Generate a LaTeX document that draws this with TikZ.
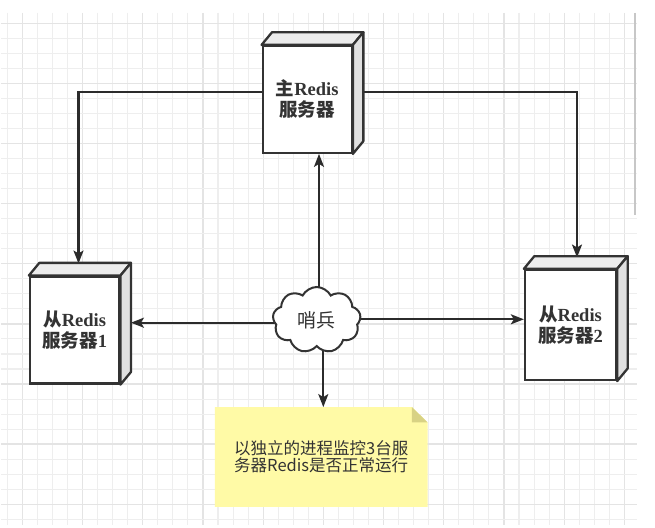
\documentclass[tikz,border=0pt]{standalone}
\usepackage{fontspec}
\setmainfont{Liberation Serif}
\newfontfamily\cjk{Noto Sans CJK SC}
\usetikzlibrary{arrows.meta,shapes.symbols}
\definecolor{boxline}{HTML}{333333}
\definecolor{connline}{HTML}{2B2B2B}
\definecolor{topface}{HTML}{ECECEC}
\definecolor{sideface}{HTML}{E0E0E0}
\definecolor{gridminor}{HTML}{EEEEEE}
\definecolor{gridmajor}{HTML}{E4E4E4}
\definecolor{notefill}{HTML}{FFFAA6}
\definecolor{foldfill}{HTML}{D8D284}
\definecolor{txt}{HTML}{333333}
\pgfdeclarelayer{gridlayer}
\pgfdeclarelayer{bglayer}
\pgfsetlayers{gridlayer,bglayer,main}
\newcommand\cj[1]{{\cjk #1}}
\newcommand\srvfaces[1]{%
  \filldraw[fill=topface,draw=boxline,line width=2.3pt,line join=round]
    (#1.north west) -- ([xshift=10.5pt,yshift=12.7pt]#1.north west)
    -- ([xshift=10.5pt,yshift=12.7pt]#1.north east) -- (#1.north east) -- cycle;
  \filldraw[fill=sideface,draw=boxline,line width=2.3pt,line join=round]
    (#1.north east) -- ([xshift=10.5pt,yshift=12.7pt]#1.north east)
    -- ([xshift=10.5pt,yshift=12.7pt]#1.south east) -- (#1.south east) -- cycle;}
\begin{document}
\begin{tikzpicture}[x=1pt,y=-1pt,
  srv/.style={draw=boxline,line width=2.3pt,fill=white,inner sep=0pt,align=center,
    text=txt,font=\fontsize{18.5}{21}\selectfont\bfseries},
  conn/.style={draw=connline,line width=2.1pt,-{Stealth[length=13pt,width=10pt,inset=3pt]}},
  notetext/.style={inner sep=0pt,align=center,text=txt,font=\cjk\fontsize{16.5}{17.4}\selectfont},
  sentinel/.style={cloud,cloud puffs=9,cloud puff arc=125,aspect=1.35,draw=boxline,
    line width=2pt,fill=white,inner sep=0pt,minimum width=88pt,minimum height=66pt,
    text=txt,font=\cjk\fontsize{19}{20}\selectfont}]
\useasboundingbox (0,0) rectangle (655,527);
% grid
\begin{pgfonlayer}{gridlayer}
\fill[white] (0,0) rectangle (655,527);
\foreach \k in {0,...,41}{
  \pgfmathsetmacro\xx{7.3+15.05*\k}
  \pgfmathtruncatemacro\mm{mod(\k,4)}
  \ifnum\mm=1
    \draw[gridmajor,line width=1.3pt] (\xx,13) -- (\xx,525);
  \else
    \draw[gridminor,line width=1.1pt] (\xx,13) -- (\xx,525);
  \fi}
\foreach \k in {0,...,33}{
  \pgfmathsetmacro\yy{23.3+15.03*\k}
  \pgfmathtruncatemacro\mm{mod(\k,4)}
  \ifnum\mm=0
    \draw[gridmajor,line width=1.3pt] (1,\yy) -- (637,\yy);
  \else
    \draw[gridminor,line width=1.1pt] (1,\yy) -- (637,\yy);
  \fi}
\draw[black!22,line width=1.5pt] (635,13) -- (635,215);
\end{pgfonlayer}
% servers
\node[srv,minimum width=89pt,minimum height=106.7pt] (m) at (307.2,99.4)
  {\cj{主}Redis\\\cj{服务器}};
\srvfaces{m}
\node[srv,minimum width=89.3pt,minimum height=106.8pt] (s1) at (74.65,330.1)
  {\cj{从}Redis\\\cj{服务器}1};
\srvfaces{s1}
\node[srv,minimum width=91pt,minimum height=110pt] (s2) at (570.5,325)
  {\cj{从}Redis\\\cj{服务器}2};
\srvfaces{s2}
% sentinel
\node[sentinel] (s) at (316.7,320) {哨兵};
% note
\node[notetext,minimum width=212.3pt,minimum height=99.4pt] (n) at (321.2,457)
  {以独立的进程监控3台服\\务器Redis是否正常运行};
% helper coordinates
\coordinate (s1t) at (78.5,263.5);
\coordinate (s2t) at (577,257.5);
\coordinate (s1r) at ([xshift=10.5pt]s1.east);
\coordinate (su) at ([xshift=2.3pt]s.center);
\coordinate (sl) at ([yshift=-2.7pt]s.center);
\coordinate (sr) at ([yshift=0.7pt]s.center);
\coordinate (sd) at ([xshift=6.6pt]s.center);
\begin{pgfonlayer}{bglayer}
  \fill[notefill] (n.north west) -- ([xshift=-15.6pt]n.north east)
    -- ([yshift=-15.3pt]n.north east) -- (n.south east) -- (n.south west) -- cycle;
  \fill[foldfill] ([xshift=-15.6pt]n.north east) -- ([yshift=-15.3pt]n.north east)
    -- ([xshift=-15.6pt,yshift=-15.3pt]n.north east) -- cycle;
  \draw[conn] ([yshift=7.1pt]m.west) -| (s1t);
  \draw[conn] ([yshift=7.1pt]m.east) -| (s2t);
  \draw[conn] (su) -- (su |- m.south);
  \draw[conn] (sl) -- (sl -| s1r);
  \draw[conn] (sr) -- (sr -| s2.west);
  \draw[conn] (sd) -- (sd |- n.north);
\end{pgfonlayer}
\end{tikzpicture}
\end{document}
